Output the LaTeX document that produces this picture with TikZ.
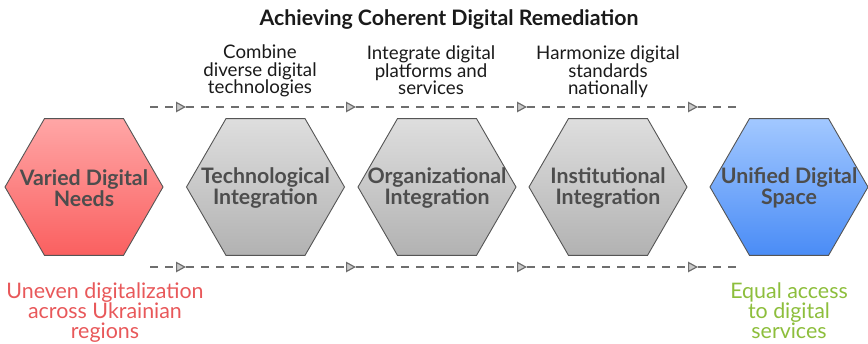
\documentclass[tikz,border=0pt]{standalone}
\usepackage{fontspec}
\setmainfont{Lato}
\usetikzlibrary{shapes.geometric,arrows.meta}
\definecolor{hexline}{HTML}{555555}
\definecolor{hextext}{HTML}{4D4D4D}
\definecolor{redtop}{HTML}{FFA6A6}
\definecolor{redbot}{HTML}{FA6060}
\definecolor{graytop}{HTML}{DEDEDE}
\definecolor{graybot}{HTML}{B2B2B2}
\definecolor{bluetop}{HTML}{A2C8FF}
\definecolor{bluebot}{HTML}{4A8CF6}
\definecolor{lblred}{HTML}{E8585A}
\definecolor{lblgreen}{HTML}{8DBE3C}
\definecolor{flowline}{HTML}{6E6E6E}
\definecolor{tipfill}{HTML}{C8C8C8}
\definecolor{ink}{HTML}{1A1A1A}
\tikzset{
  hexbox/.style={regular polygon, regular polygon sides=6, minimum size=158pt,
    inner sep=0pt, outer sep=0pt, draw=hexline, line width=0.9pt},
  hextext/.style={inner sep=0pt, align=center, text=hextext,
    font=\fontsize{21.3}{21}\selectfont\bfseries},
  redhex/.style={hexbox, top color=redtop, bottom color=redbot},
  grayhex/.style={hexbox, top color=graytop, bottom color=graybot},
  bluehex/.style={hexbox, top color=bluetop, bottom color=bluebot},
  flow/.style={draw=flowline, line width=1.2pt, dash pattern=on 7.5pt off 7.5pt},
  flowtip/.style={flow, -{Triangle[length=10pt,width=10.5pt,fill=tipfill]}},
  steplabel/.style={anchor=north, inner sep=0pt, align=center, text=ink,
    font=\fontsize{18.7}{17.5}\selectfont},
  outlabel/.style={anchor=north, inner sep=0pt, align=center,
    font=\fontsize{21.4}{20}\selectfont},
  titlelabel/.style={anchor=base, inner sep=0pt, text=ink,
    font=\fontsize{21.3}{22}\selectfont\bfseries}
}
\begin{document}
\begin{tikzpicture}[x=1pt,y=-1pt]
\useasboundingbox (0,0) rectangle (868,343);
\node[titlelabel] (title) at (449,25) {Achieving Coherent Digital Remediation};

\node[redhex]  (h1) at (84,187)  {};
\node[grayhex] (h2) at (265.5,187) {};
\node[grayhex] (h3) at (437,187) {};
\node[grayhex] (h4) at (608,187) {};
\node[bluehex] (h5) at (789,187) {};
\node[hextext] (x1) at ([yshift=-1pt]h1) {Varied Digital\\Needs};
\node[hextext] (x2) at ([yshift=-1pt]h2) {Technological\\Integration};
\node[hextext] (x3) at ([yshift=-1pt]h3) {Organizational\\Integration};
\node[hextext] (x4) at ([yshift=-1pt]h4) {Institutional\\Integration};
\node[hextext] (x5) at ([yshift=-1pt]h5) {Unified Digital\\Space};

% top flow line
\coordinate (t0) at (150,107);
\coordinate (t1) at (186,107);
\coordinate (t2) at (356,107);
\coordinate (t3) at (527,107);
\coordinate (t4) at (698,107);
\coordinate (t5) at (742,107);
\draw[flowtip] (t0) -- (t1);
\draw[flowtip] (t1) -- (t2);
\draw[flowtip] (t2) -- (t3);
\draw[flowtip] (t3) -- (t4);
\draw[flow] (t4) -- (t5);

% bottom flow line
\coordinate (b0) at (150,267);
\coordinate (b1) at (186,267);
\coordinate (b2) at (356,267);
\coordinate (b3) at (527,267);
\coordinate (b4) at (698,267);
\coordinate (b5) at (742,267);
\draw[flowtip] (b0) -- (b1);
\draw[flowtip] (b1) -- (b2);
\draw[flowtip] (b2) -- (b3);
\draw[flowtip] (b3) -- (b4);
\draw[flow] (b4) -- (b5);

\node[steplabel] (s1) at (260,45) {Combine\\diverse digital\\technologies};
\node[steplabel] (s2) at (431,46) {Integrate digital\\platforms and\\services};
\node[steplabel] (s3) at (608,46) {Harmonize digital\\standards\\nationally};

\node[outlabel, text=lblred]   (o1) at (105,283) {Uneven digitalization\\across Ukrainian\\regions};
\node[outlabel, text=lblgreen] (o2) at (789,283) {Equal access\\to digital\\services};
\end{tikzpicture}
\end{document}
